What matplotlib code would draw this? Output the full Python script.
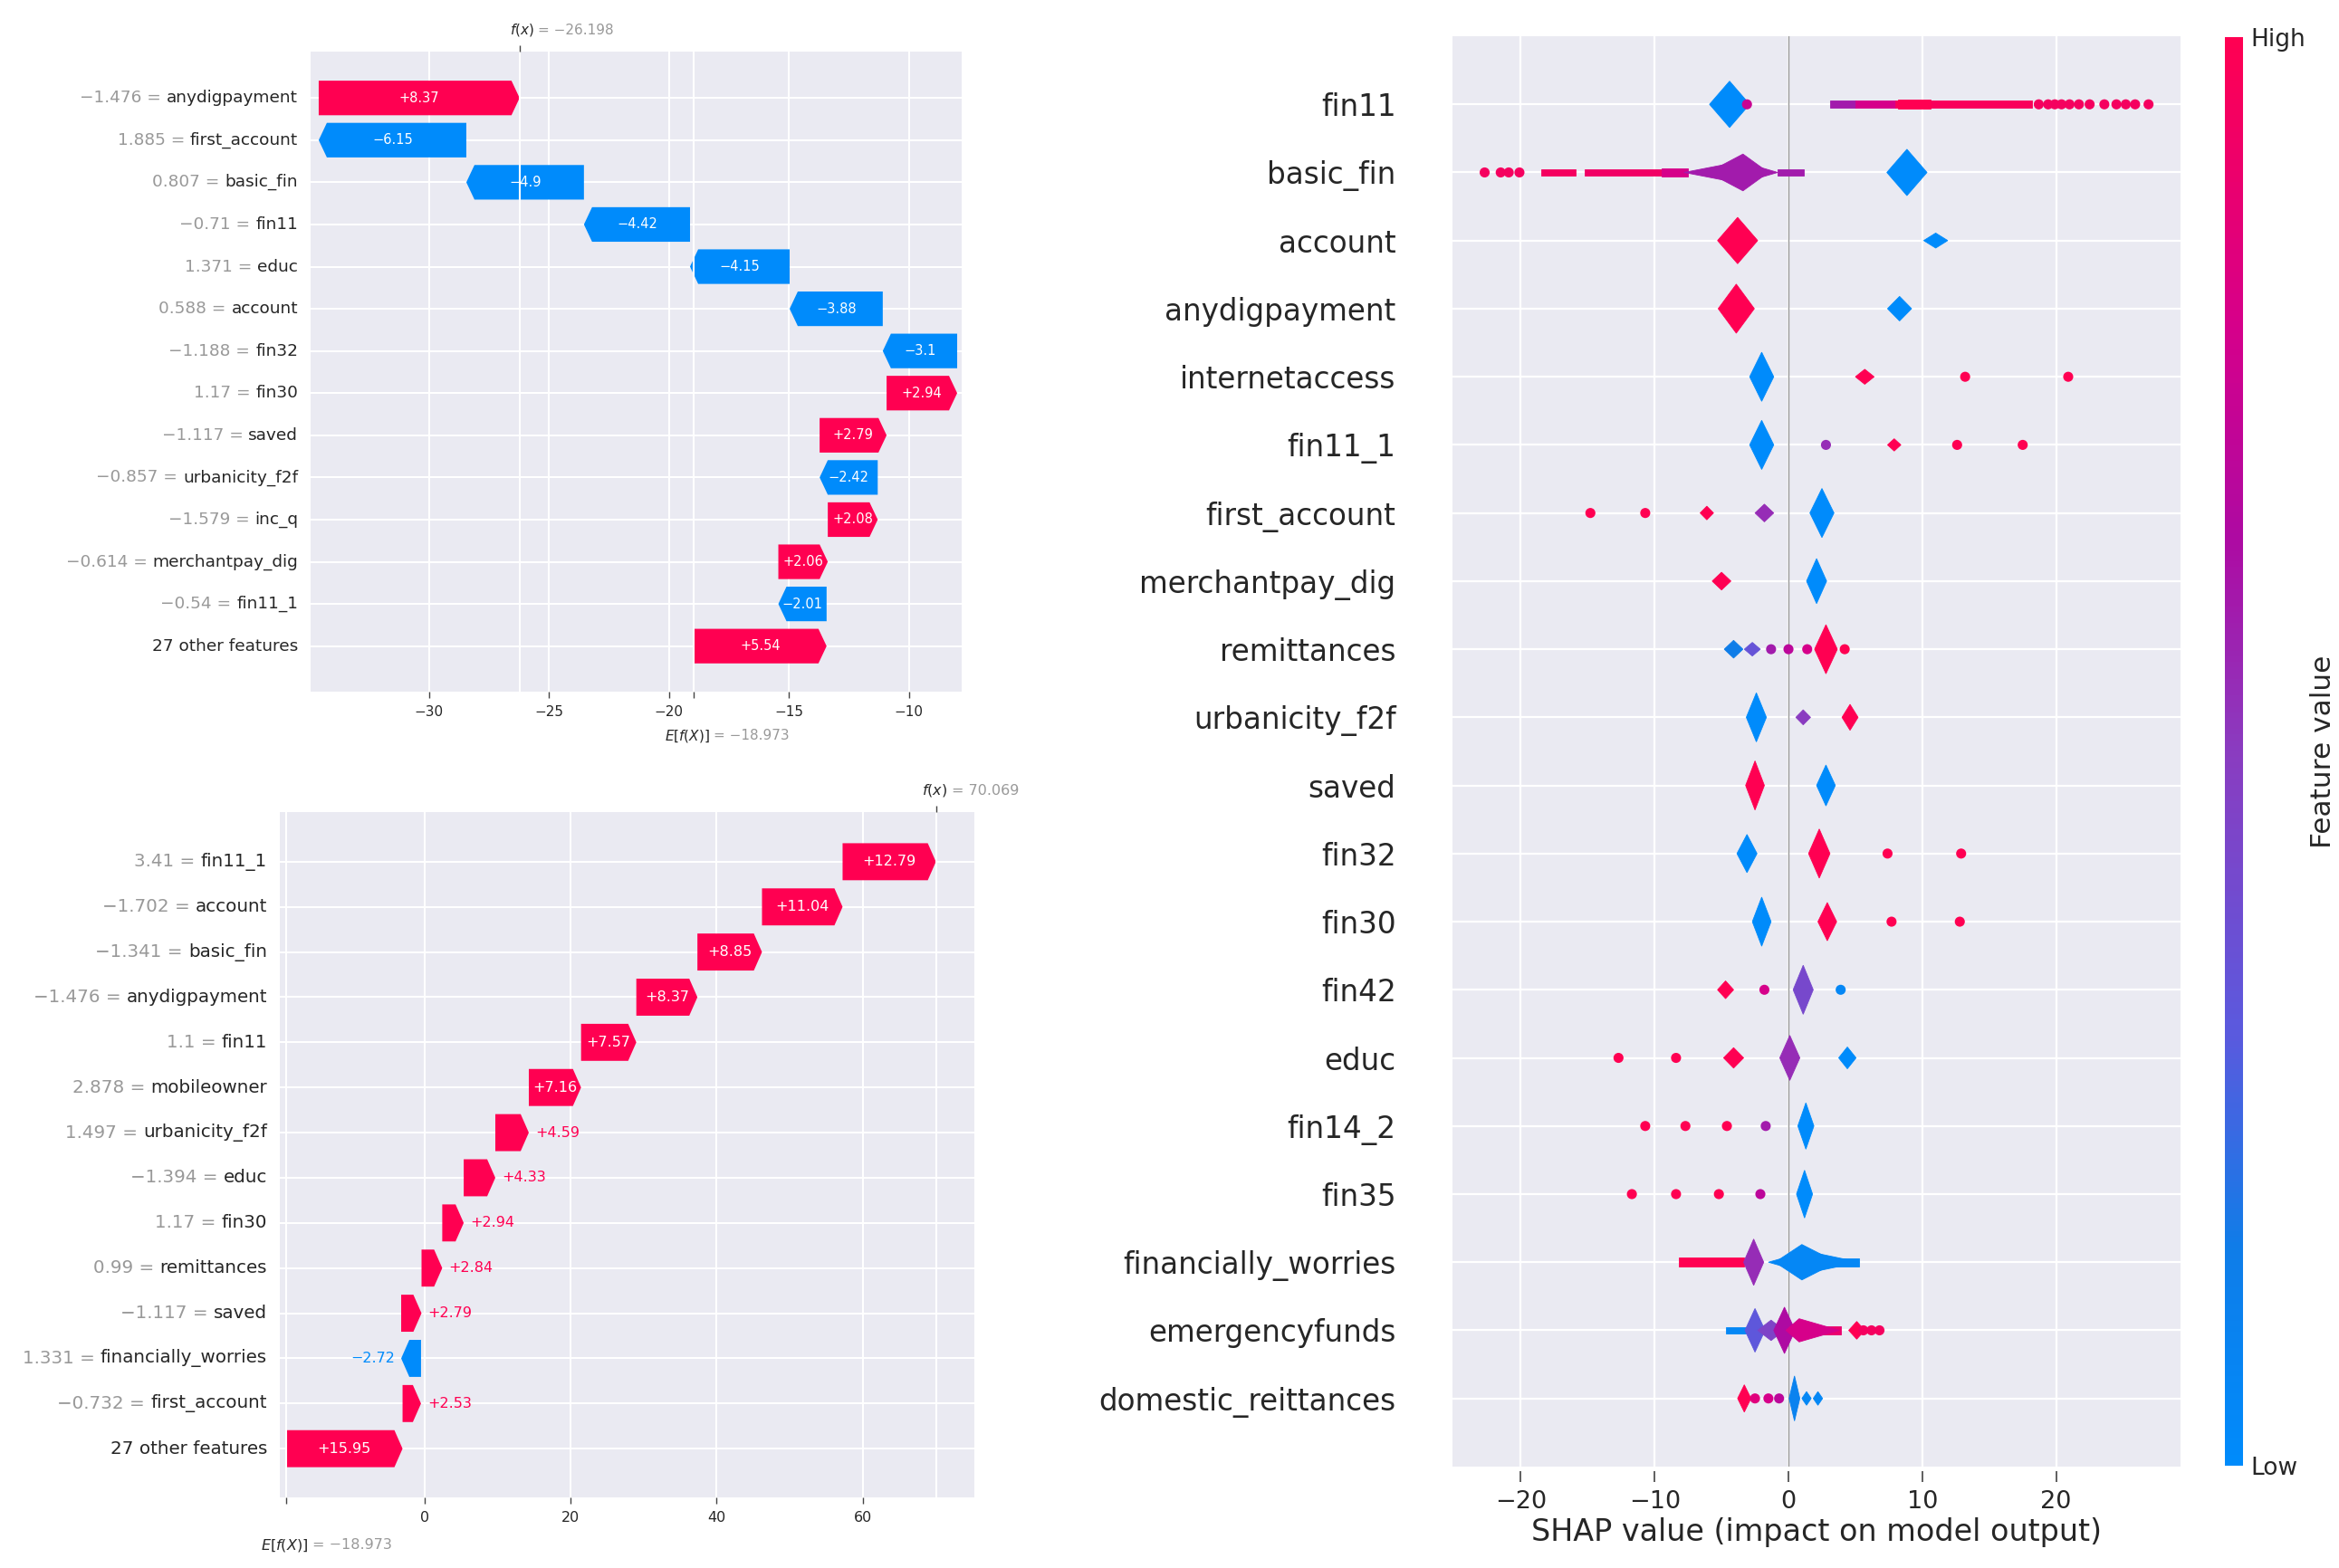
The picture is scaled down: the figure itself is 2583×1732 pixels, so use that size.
import matplotlib.pyplot as plt
import numpy as np
from matplotlib.colors import LinearSegmentedColormap, Normalize
from matplotlib.cm import ScalarMappable

RED = '#ff0051'
BLUE = '#008bfb'
BG = '#eaeaf2'
DARK = '#262626'
GREY = '#999999'
M = '\u2212'

# ---------------- top waterfall ----------------
wf1_names = ['anydigpayment', 'first_account', 'basic_fin', 'fin11', 'educ', 'account',
             'fin32', 'fin30', 'saved', 'urbanicity_f2f', 'inc_q', 'merchantpay_dig',
             'fin11_1', '27 other features']
wf1_feat = [M + '1.476', '1.885', '0.807', M + '0.71', '1.371', '0.588', M + '1.188',
            '1.17', M + '1.117', M + '0.857', M + '1.579', M + '0.614', M + '0.54', '']
wf1_shap = [8.37, -6.15, -4.9, -4.42, -4.15, -3.88, -3.1, 2.94, 2.79, -2.42, 2.08, 2.06, -2.01, 5.54]
wf1_base = -18.973
wf1_fx = -26.198
wf1_xticks = [-30, -25, -20, -15, -10]

# ---------------- bottom waterfall ----------------
wf2_names = ['fin11_1', 'account', 'basic_fin', 'anydigpayment', 'fin11', 'mobileowner',
             'urbanicity_f2f', 'educ', 'fin30', 'remittances', 'saved',
             'financially_worries', 'first_account', '27 other features']
wf2_feat = ['3.41', M + '1.702', M + '1.341', M + '1.476', '1.1', '2.878', '1.497',
            M + '1.394', '1.17', '0.99', M + '1.117', '1.331', M + '0.732', '']
wf2_shap = [12.79, 11.04, 8.85, 8.37, 7.57, 7.16, 4.59, 4.33, 2.94, 2.84, 2.79, -2.72, 2.53, 15.95]
wf2_base = -18.973
wf2_fx = 70.069
wf2_xticks = [0, 20, 40, 60]

# ---------------- beeswarm summary ----------------
bee_features = ['fin11', 'basic_fin', 'account', 'anydigpayment', 'internetaccess', 'fin11_1',
                'first_account', 'merchantpay_dig', 'remittances', 'urbanicity_f2f', 'saved',
                'fin32', 'fin30', 'fin42', 'educ', 'fin14_2', 'fin35', 'financially_worries',
                'emergencyfunds', 'domestic_reittances']
bee_xticks = [-20, -10, 0, 10, 20]

# dense clusters: feature, centre, left spread, right spread, half height, feature value (0 low .. 1 high)
bee_blobs = [
    ('fin11', -4.4, 1.5, 1.5, 0.34, 0.0),
    ('basic_fin', -3.4, 2.6, 1.9, 0.27, 0.6), ('basic_fin', -3.6, 4.2, 2.8, 0.16, 0.6),
    ('basic_fin', 8.85, 1.5, 1.5, 0.34, 0.0),
    ('account', -3.8, 1.5, 1.5, 0.34, 1.0), ('account', 11.0, 0.9, 0.9, 0.11, 0.0),
    ('anydigpayment', -3.9, 1.35, 1.35, 0.36, 1.0), ('anydigpayment', 8.3, 0.9, 0.9, 0.18, 0.0),
    ('internetaccess', -2.0, 0.9, 0.9, 0.36, 0.0), ('internetaccess', 5.7, 0.7, 0.7, 0.11, 1.0),
    ('fin11_1', -2.0, 0.9, 0.9, 0.36, 0.0), ('fin11_1', 7.9, 0.5, 0.5, 0.09, 1.0),
    ('first_account', -6.1, 0.5, 0.5, 0.1, 1.0), ('first_account', -1.8, 0.7, 0.7, 0.13, 0.55),
    ('first_account', 2.5, 0.9, 0.9, 0.36, 0.0),
    ('merchantpay_dig', -5.0, 0.7, 0.7, 0.13, 1.0), ('merchantpay_dig', 2.1, 0.75, 0.75, 0.33, 0.0),
    ('remittances', -4.1, 0.7, 0.7, 0.13, 0.15), ('remittances', -2.7, 0.6, 0.6, 0.1, 0.35),
    ('remittances', 2.8, 0.85, 0.85, 0.36, 1.0),
    ('urbanicity_f2f', -2.4, 0.75, 0.75, 0.36, 0.0), ('urbanicity_f2f', 1.1, 0.55, 0.55, 0.11, 0.5),
    ('urbanicity_f2f', 4.6, 0.6, 0.6, 0.19, 1.0),
    ('saved', -2.5, 0.7, 0.7, 0.36, 1.0), ('saved', 2.8, 0.7, 0.7, 0.3, 0.0),
    ('fin32', -3.1, 0.75, 0.75, 0.28, 0.0), ('fin32', 2.3, 0.8, 0.8, 0.36, 1.0),
    ('fin30', -2.0, 0.7, 0.7, 0.36, 0.0), ('fin30', 2.9, 0.7, 0.7, 0.28, 1.0),
    ('fin42', -4.7, 0.6, 0.6, 0.13, 1.0), ('fin42', 1.1, 0.75, 0.75, 0.36, 0.42),
    ('educ', -4.1, 0.75, 0.75, 0.15, 1.0), ('educ', 0.1, 0.75, 0.75, 0.33, 0.55),
    ('educ', 4.4, 0.65, 0.65, 0.16, 0.0),
    ('fin14_2', 1.3, 0.6, 0.6, 0.34, 0.0),
    ('fin35', 1.2, 0.6, 0.6, 0.35, 0.0),
    ('financially_worries', -2.6, 0.75, 0.75, 0.34, 0.55),
    ('financially_worries', 1.0, 2.0, 2.6, 0.26, 0.05),
    ('financially_worries', 1.4, 2.9, 3.9, 0.16, 0.05),
    ('emergencyfunds', -2.5, 0.75, 0.75, 0.32, 0.32), ('emergencyfunds', -1.3, 1.0, 1.0, 0.15, 0.45),
    ('emergencyfunds', -0.3, 0.8, 0.8, 0.34, 0.65), ('emergencyfunds', 0.8, 1.0, 3.0, 0.17, 0.8),
    ('emergencyfunds', 5.1, 0.6, 0.6, 0.13, 1.0),
    ('domestic_reittances', -3.3, 0.5, 0.5, 0.2, 1.0), ('domestic_reittances', 0.45, 0.4, 0.4, 0.33, 0.1),
    ('domestic_reittances', 1.35, 0.35, 0.35, 0.1, 0.05), ('domestic_reittances', 2.2, 0.35, 0.35, 0.1, 0.05),
]
# thin runs of overlapping points: feature, start, end, half height, feature value
bee_bands = [
    ('fin11', 3.1, 5.0, 0.055, 0.6), ('fin11', 5.0, 8.0, 0.055, 0.8),
    ('fin11', 8.0, 18.2, 0.055, 0.97), ('fin11', 8.2, 10.6, 0.068, 1.0),
    ('basic_fin', -18.5, -15.9, 0.045, 0.95), ('basic_fin', -15.2, -9.5, 0.05, 0.93),
    ('basic_fin', -9.5, -7.5, 0.055, 0.8),
    ('basic_fin', -0.8, 1.15, 0.045, 0.6),
    ('financially_worries', -8.2, -3.3, 0.066, 1.0),
    ('financially_worries', 3.2, 5.3, 0.06, 0.05),
    ('emergencyfunds', -4.7, -3.0, 0.045, 0.05), ('emergencyfunds', 0.8, 3.9, 0.06, 0.9),
]
# isolated points: feature, shap value, feature value
bee_dots = [
    ('fin11', -3.1, 0.75), ('fin11', 18.7, 0.95), ('fin11', 19.4, 0.95), ('fin11', 19.9, 0.95),
    ('fin11', 20.4, 0.95), ('fin11', 21.0, 0.95), ('fin11', 21.7, 0.95), ('fin11', 22.5, 0.95),
    ('fin11', 23.6, 0.95), ('fin11', 24.5, 0.95), ('fin11', 25.2, 0.95), ('fin11', 25.9, 0.95),
    ('fin11', 26.9, 0.95),
    ('basic_fin', -22.7, 0.95), ('basic_fin', -21.5, 0.95), ('basic_fin', -20.9, 0.95),
    ('basic_fin', -20.1, 0.95),
    ('internetaccess', 13.2, 1.0), ('internetaccess', 20.9, 1.0),
    ('fin11_1', 2.8, 0.55), ('fin11_1', 12.6, 1.0), ('fin11_1', 17.5, 1.0),
    ('first_account', -14.8, 1.0), ('first_account', -10.7, 1.0),
    ('remittances', -1.3, 0.6), ('remittances', 0.0, 0.7), ('remittances', 1.4, 0.8),
    ('remittances', 4.2, 1.0),
    ('fin32', 7.4, 1.0), ('fin32', 12.9, 1.0),
    ('fin30', 7.7, 1.0), ('fin30', 12.8, 1.0),
    ('fin42', -1.8, 0.8), ('fin42', 3.9, 0.05),
    ('educ', -12.7, 1.0), ('educ', -8.4, 1.0),
    ('fin14_2', -10.7, 1.0), ('fin14_2', -7.7, 1.0), ('fin14_2', -4.6, 1.0), ('fin14_2', -1.7, 0.6),
    ('fin35', -11.7, 1.0), ('fin35', -8.4, 1.0), ('fin35', -5.2, 1.0), ('fin35', -2.1, 0.7),
    ('emergencyfunds', 5.6, 0.95), ('emergencyfunds', 6.2, 0.95), ('emergencyfunds', 6.8, 0.95),
    ('domestic_reittances', -2.5, 0.85), ('domestic_reittances', -1.5, 0.8),
    ('domestic_reittances', -0.7, 0.7),
]

shap_cmap = LinearSegmentedColormap.from_list('red_blue', [
    (0.0, '#008bfb'), (0.15, '#0f7de8'), (0.3, '#5a5ade'), (0.5, '#8a3cc0'),
    (0.65, '#ae0aa2'), (0.8, '#d6008a'), (1.0, '#ff0052')])

fig = plt.figure(figsize=(25.83, 17.32), dpi=100)
renderer = fig.canvas.get_renderer()


def fmt(v):
    s = f'{abs(v):.2f}'.rstrip('0').rstrip('.')
    return ('+' if v > 0 else M) + s


def pair(ax, dark, light, xy, xycoords, offset, fs):
    t = ax.annotate(dark, xy=xy, xycoords=xycoords, xytext=offset, textcoords='offset points',
                    ha='left', va='center', fontsize=fs, color=DARK, annotation_clip=False)
    ax.annotate(light, xy=(1, 0.5), xycoords=t, xytext=(3, 0), textcoords='offset points',
                ha='left', va='center', fontsize=fs, color=GREY, annotation_clip=False)


def waterfall(rect, names, feat, shap, base, fx, xlim, xticks, fs_lab, fs_val, fs_tick, fx_off, e_off):
    ax = fig.add_axes(rect)
    ax.set_facecolor(BG)
    for sp in ax.spines.values():
        sp.set_visible(False)
    n = len(names)
    y = np.arange(n)[::-1]
    v = np.array(shap)
    ends = base + np.cumsum(v[::-1])[::-1]
    starts = ends - v
    ax.set_xlim(xlim)
    ax.set_ylim(-1.08, n - 1 + 1.1)
    upx = (xlim[1] - xlim[0]) / (rect[2] * fig.bbox.width)
    bw = 0.82
    for yi, s, e, val in zip(y, starts, ends, v):
        col = RED if val > 0 else BLUE
        d = 1 if val > 0 else -1
        hl = min(9 * upx, abs(val))
        ax.fill([s, e - d * hl, e, e - d * hl, s],
                [yi - bw / 2, yi - bw / 2, yi, yi + bw / 2, yi + bw / 2],
                color=col, lw=0, zorder=3)
        t = ax.text((s + e) / 2, yi, fmt(val), ha='center', va='center', color='white',
                    fontsize=fs_val, zorder=6)
        if t.get_window_extent(renderer).width > abs(val) / upx - 6:
            t.set_x(e + d * 7 * upx)
            t.set_ha('left' if d > 0 else 'right')
            t.set_color(col)
    for yi, name, fv in zip(y, names, feat):
        lab = ax.annotate(name, xy=(0, yi), xycoords=('axes fraction', 'data'), xytext=(-10, 0),
                          textcoords='offset points', ha='right', va='center',
                          fontsize=fs_lab, color=DARK)
        if fv:
            ax.annotate(fv + ' = ', xy=(0, 0.5), xycoords=lab, ha='right', va='center',
                        fontsize=fs_lab, color=GREY)
    ax.set_yticks(y)
    ax.set_yticklabels([])
    ax.tick_params(axis='y', length=0)
    ax.set_xticks(xticks)
    ax.set_xticks([base], minor=True)
    ax.tick_params(axis='x', which='both', length=5, width=1, color='#444444',
                   labelsize=fs_tick, labelcolor=DARK, pad=6)
    ax.grid(True, which='major', color='white', lw=1.5)
    ax.set_axisbelow(True)
    ax.axvline(fx, color='white', lw=1.5, zorder=5)
    ax.axvline(base, color='white', lw=1.5, zorder=5)
    top = ax.twiny()
    top.set_xlim(xlim)
    top.set_xticks([fx])
    top.set_xticklabels([''])
    top.tick_params(axis='x', length=5, width=1, color='#444444')
    for sp in top.spines.values():
        sp.set_visible(False)
    pair(ax, '$f(x)$', '= ' + f'{fx:.3f}'.replace('-', M), (fx, 1),
         ('data', 'axes fraction'), fx_off, fs_tick)
    pair(ax, '$E[f(X)]$', '= ' + f'{base:.3f}'.replace('-', M), (base, 0),
         ('data', 'axes fraction'), e_off, fs_tick)
    return ax


waterfall([0.1328, 0.5589, 0.2784, 0.4082], wf1_names, wf1_feat, wf1_shap, wf1_base, wf1_fx,
          (-34.93, -7.8), wf1_xticks, 13.3, 10.5, 11, (-8, 17), (-23, -35))
waterfall([0.1196, 0.0450, 0.2969, 0.4371], wf2_names, wf2_feat, wf2_shap, wf2_base, wf2_fx,
          (-19.85, 75.3), wf2_xticks, 14.3, 11.5, 11.5, (-11, 17), (-20, -38))

# ---------------- beeswarm ----------------
axb = fig.add_axes([0.6210, 0.0647, 0.3113, 0.9122])
axb.set_facecolor(BG)
for sp in axb.spines.values():
    sp.set_visible(False)
nf = len(bee_features)
row = {f: nf - 1 - i for i, f in enumerate(bee_features)}

for f, x0, x1, hh, c in bee_bands:
    yy = row[f]
    axb.fill([x0, x1, x1, x0], [yy - hh, yy - hh, yy + hh, yy + hh],
             color=shap_cmap(c), lw=0.6, ec=shap_cmap(c), zorder=3)
for f, x, wl, wr, hh, c in bee_blobs:
    yy = row[f]
    axb.fill([x - wl, x, x + wr, x], [yy, yy + hh, yy, yy - hh],
             color=shap_cmap(c), lw=0.6, ec=shap_cmap(c), zorder=4)
axb.scatter([x for f, x, c in bee_dots], [row[f] for f, x, c in bee_dots],
            c=[shap_cmap(c) for f, x, c in bee_dots], s=64, lw=0, zorder=4)

axb.axvline(0, color='#999999', lw=1, zorder=2)
axb.set_xlim(-25.1, 29.3)
axb.set_ylim(-1, nf)
axb.set_yticks(range(nf))
axb.set_yticklabels(bee_features[::-1])
axb.set_xticks(bee_xticks)
axb.spines['bottom'].set_position(('outward', 4))
axb.tick_params(axis='y', length=0, pad=45, labelsize=23.5, labelcolor=DARK)
axb.tick_params(axis='x', length=8.5, width=1.2, color='#444444', labelsize=19.5,
                labelcolor=DARK, pad=6)
axb.grid(True, color='white', lw=1.6)
axb.set_axisbelow(True)
axb.set_xlabel('SHAP value (impact on model output)', fontsize=24, color=DARK, labelpad=3)

cax = fig.add_axes([0.9512, 0.0653, 0.0077, 0.9111])
cb = fig.colorbar(ScalarMappable(norm=Normalize(0, 1), cmap=shap_cmap), cax=cax, ticks=[0, 1])
cb.set_ticklabels(['Low', 'High'])
cb.ax.tick_params(length=0, labelsize=19, labelcolor=DARK, pad=6)
cb.outline.set_visible(False)
cb.set_label('Feature value', fontsize=22.5, color=DARK, labelpad=4)

fig.savefig('out.png', dpi=100)
